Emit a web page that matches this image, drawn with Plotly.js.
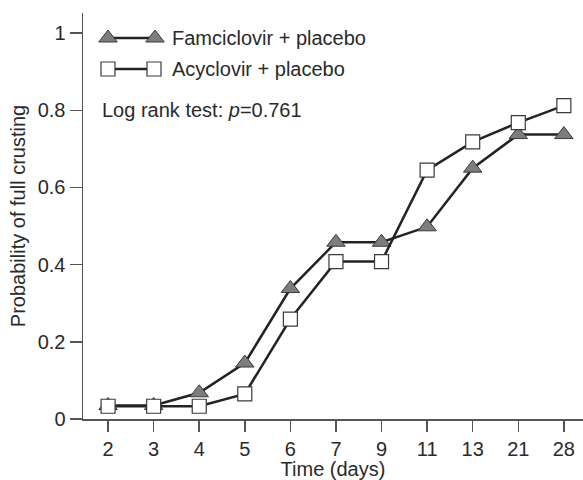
<!DOCTYPE html>
<html>
<head>
<meta charset="utf-8">
<script src="https://cdn.plot.ly/plotly-3.0.1.min.js"></script>
<style>html,body{margin:0;padding:0;background:#fff;}#chart{width:583px;height:480px;}</style>
</head>
<body>
<div id="chart"></div>
<script>
const days = ["2", "3", "4", "5", "6", "7", "9", "11", "13", "21", "28"];
const famciclovir = [0.035, 0.035, 0.068, 0.145, 0.338, 0.458, 0.458, 0.498, 0.650, 0.737, 0.737];
const acyclovir = [0.033, 0.033, 0.033, 0.065, 0.259, 0.408, 0.408, 0.645, 0.718, 0.768, 0.812];
const seriesNames = ["Famciclovir + placebo", "Acyclovir + placebo"];
const yTicks = [0, 0.2, 0.4, 0.6, 0.8, 1];
const yTickText = ["0", "0.2", "0.4", "0.6", "0.8", "1"];

const font = "Liberation Sans, Arial, Helvetica, sans-serif";
const fs = 20;
const txtCol = "#2a2a2a";
const lineCol = "#232323";
const triStyle = {symbol: "triangle-up", size: 16, color: "#7d7d7d", line: {color: "#3a3a3a", width: 1}};
const sqStyle = {symbol: "square", size: 14, color: "#ffffff", line: {color: "#3a3a3a", width: 1.2}};

const traces = [
  {x: days, y: famciclovir, type: "scatter", mode: "lines+markers", name: seriesNames[0],
   line: {color: lineCol, width: 2.5}, marker: triStyle, showlegend: false, cliponaxis: false},
  {x: days, y: acyclovir, type: "scatter", mode: "lines+markers", name: seriesNames[1],
   line: {color: lineCol, width: 2.5}, marker: sqStyle, showlegend: false, cliponaxis: false},
  // legend glyphs (drawn on a hidden helper axis)
  {x: [108, 155], y: [38, 38], xaxis: "x2", yaxis: "y2", type: "scatter", mode: "lines+markers",
   line: {color: lineCol, width: 2.5}, marker: triStyle, showlegend: false, hoverinfo: "skip", cliponaxis: false},
  {x: [108, 154], y: [69, 69], xaxis: "x2", yaxis: "y2", type: "scatter", mode: "lines+markers",
   line: {color: lineCol, width: 2.5}, marker: sqStyle, showlegend: false, hoverinfo: "skip", cliponaxis: false}
];

const layout = {
  width: 583, height: 480,
  margin: {l: 83, r: 0, t: 13, b: 61},
  paper_bgcolor: "#fff", plot_bgcolor: "#fff",
  font: {family: font, size: fs, color: txtCol},
  showlegend: false,
  xaxis: {
    type: "category", range: [-0.55, 10.42],
    showgrid: false, zeroline: false,
    showline: true, linecolor: "#555", linewidth: 1.5,
    ticks: "outside", ticklen: 11, tickcolor: "#555", tickwidth: 1.5,
    tickfont: {family: font, size: fs, color: txtCol},
    title: {text: "Time (days)", font: {family: font, size: fs, color: txtCol}, standoff: 0}
  },
  yaxis: {
    range: [0, 1.052],
    tickvals: yTicks, ticktext: yTickText,
    showgrid: false, zeroline: false,
    showline: true, linecolor: "#555", linewidth: 1.5,
    ticks: "outside", ticklen: 12, tickcolor: "#555", tickwidth: 1.5,
    tickfont: {family: font, size: fs, color: txtCol},
    title: {text: "Probability of full crusting", font: {family: font, size: fs, color: txtCol}, standoff: 6}
  },
  xaxis2: {overlaying: "x", range: [83, 583], visible: false, domain: [0, 1]},
  yaxis2: {overlaying: "y", range: [419, 13], visible: false},
  annotations: [
    {xref: "x2", yref: "y2", x: 170, y: 38, xanchor: "left", yanchor: "middle", showarrow: false,
     text: seriesNames[0], font: {family: font, size: fs, color: txtCol}},
    {xref: "x2", yref: "y2", x: 170, y: 69, xanchor: "left", yanchor: "middle", showarrow: false,
     text: seriesNames[1], font: {family: font, size: fs, color: txtCol}},
    {xref: "x2", yref: "y2", x: 100, y: 110, xanchor: "left", yanchor: "middle", showarrow: false,
     text: "Log rank test: <i>p</i>=0.761", font: {family: font, size: fs, color: txtCol}}
  ]
};

Plotly.newPlot("chart", traces, layout, {displayModeBar: false, staticPlot: true});
</script>
</body>
</html>
